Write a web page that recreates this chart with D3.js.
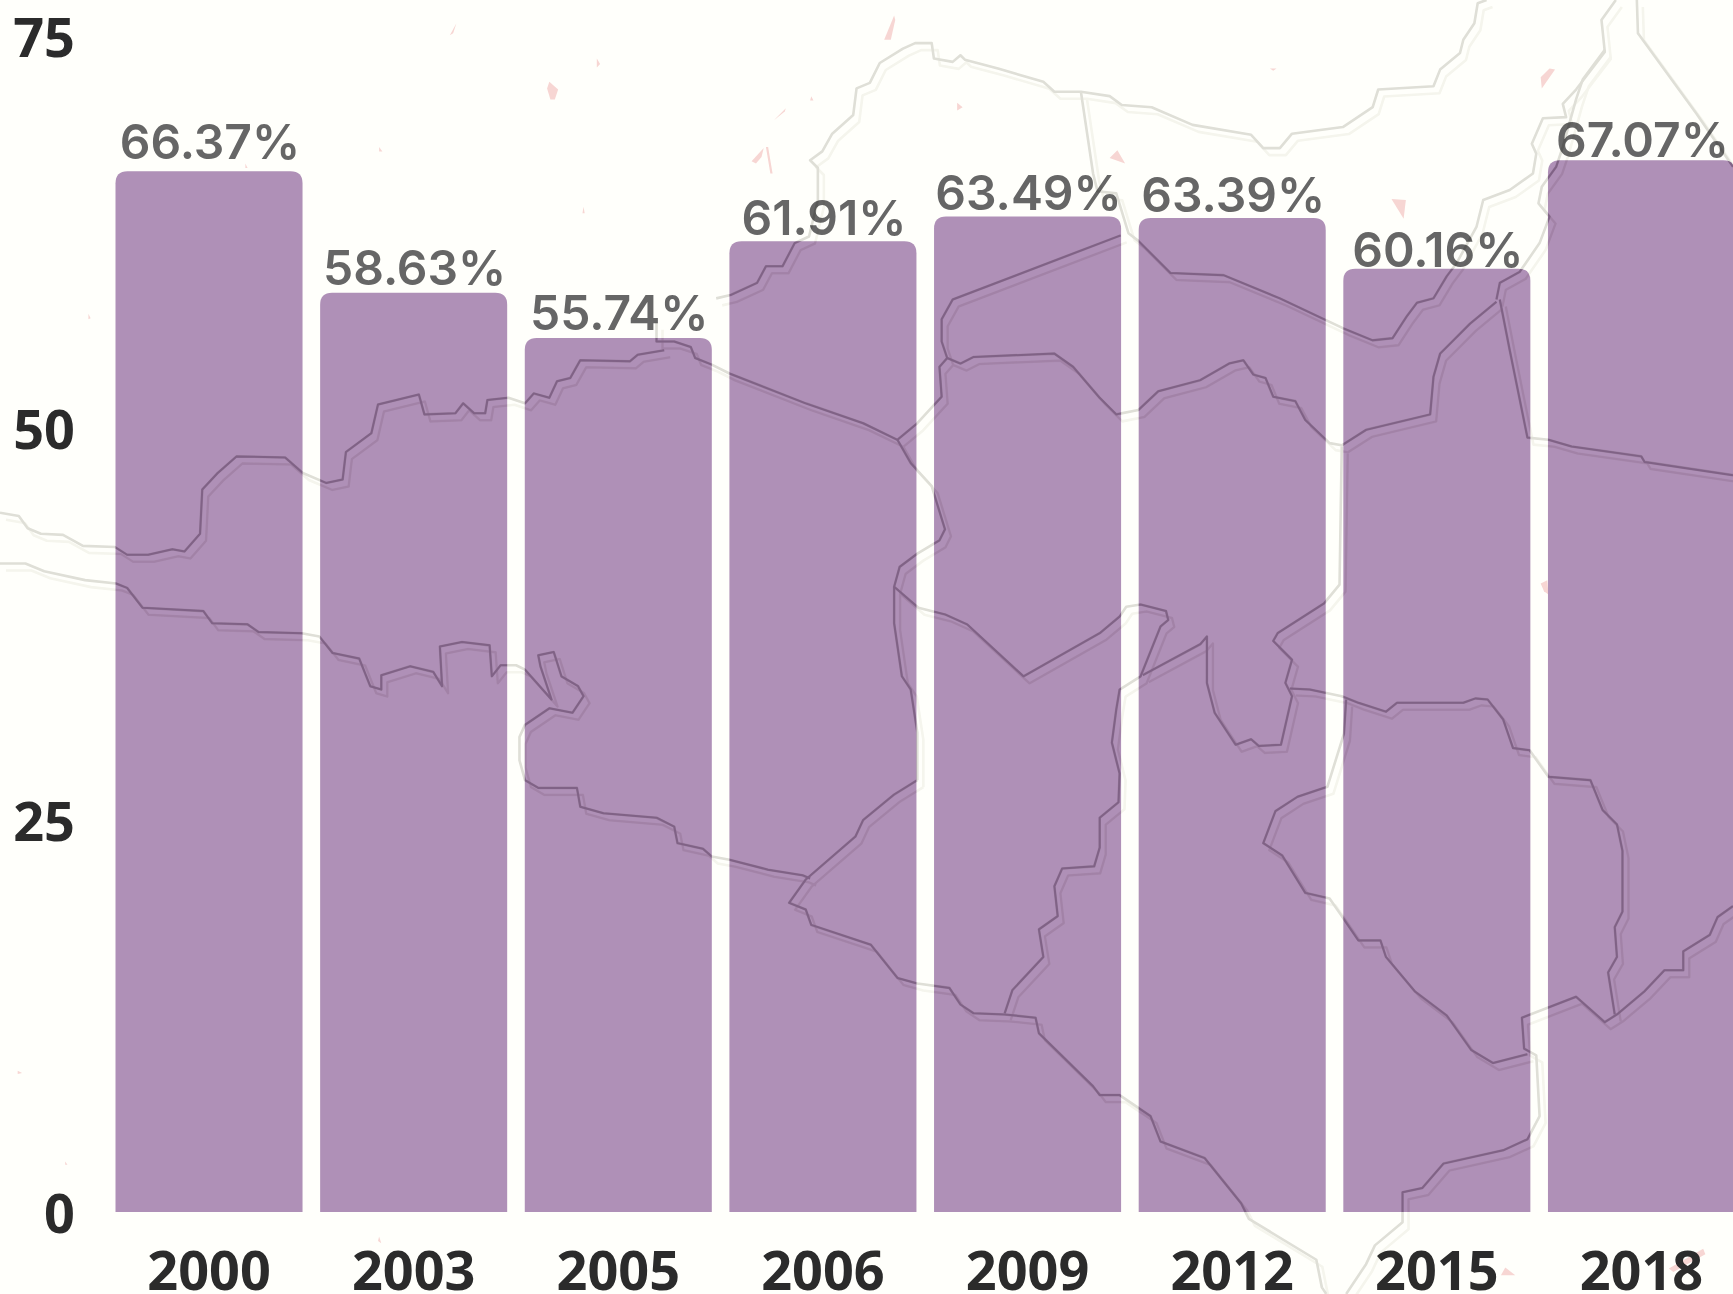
<!DOCTYPE html>
<html>
<head>
<meta charset="utf-8">
<script src="https://cdn.jsdelivr.net/npm/d3@7"></script>
<style>
html,body{margin:0;padding:0;background:#fffffb;overflow:hidden}
svg{display:block}
.overlay{mix-blend-mode:multiply}
</style>
</head>
<body>
<svg id="chart" width="1733" height="1294"></svg>
<script>
// ---- chart data ----
const years = ["2000","2003","2005","2006","2009","2012","2015","2018"];
const shares = [66.37,58.63,55.74,61.91,63.49,63.39,60.16,67.07];
const shareLabels = ["66.37%","58.63%","55.74%","61.91%","63.49%","63.39%","60.16%","67.07%"];
const yTicks = [0,25,50,75];

// ---- background map, traced in map units (0-1568 x 0-1171) ----
const borderNorth = [[0,464],[17,467],[25,478],[37,483],[57,484],[75,494],[104,495],[115,502],[134,502],[156,497],[167,499],[181,483],[183,443],[197,428],[214,413],[258,414],[274,428],[295,437],[310,434],[313,409],[336,392],[342,366],[379,357],[384,375],[412,374],[419,365],[429,374],[439,374],[441,362],[460,360],[475,365],[483,356],[497,360],[504,345],[516,342],[525,326],[570,327],[577,321],[601,317]];
const borderKnot = [[594,292],[594,309],[610,309],[625,314],[629,324],[644,330],[660,338],[729,365],[781,383],[812,398],[830,383],[852,359],[850,332],[857,324],[852,309],[852,289],[862,271],[1014,213]];
const borderUpperEast = [[648,270],[661,267],[685,256],[693,241],[708,241],[719,220],[732,214],[740,181],[740,152],[733,145],[744,137],[753,121],[772,104],[775,80],[787,75],[796,57],[817,44],[828,39],[843,39],[845,53],[862,56],[869,50],[873,54],[903,62],[944,74],[954,83],[978,83],[1004,87],[1015,95],[1042,97],[1079,113],[1132,122],[1143,134],[1158,134],[1169,121],[1215,115],[1242,97],[1247,81],[1297,78],[1303,63],[1321,48],[1324,36],[1334,21],[1337,3],[1345,0]];
const borderSpur = [[978,83],[989,157],[993,173],[1010,175],[1021,211],[1030,218],[1059,247],[1107,249],[1158,270],[1215,297],[1242,308],[1260,306],[1273,286],[1282,274],[1297,270],[1309,250],[1318,238],[1336,205],[1342,181],[1366,172],[1387,157],[1390,139],[1386,130],[1396,107],[1417,106],[1414,94],[1426,81],[1452,47],[1449,18],[1462,0]];
const borderNorthEast = [[1481,0],[1482,30],[1535,103],[1568,151]];
const borderEastInner = [[1354,271],[1357,256],[1375,246],[1393,220],[1402,196],[1392,184],[1395,169],[1408,151],[1414,133],[1426,90],[1432,72],[1452,45]];
const borderSouthWest = [[0,510],[23,510],[40,517],[77,525],[105,528],[115,532],[129,550],[184,553],[192,564],[224,565],[234,572],[273,573],[289,576],[301,591],[325,596],[335,621],[345,624],[345,611],[371,603],[392,608],[400,621],[398,585],[418,581],[443,584],[445,612],[453,602],[467,602],[475,606],[499,633],[489,603],[487,593],[501,590],[508,612],[523,621],[528,630],[518,645],[497,641],[475,656],[470,667],[470,688],[475,706],[487,713],[522,713],[525,730],[546,736],[594,740],[610,748],[613,763],[636,768],[644,775],[660,778],[695,787],[726,792],[733,795]];
const borderSouth = [[830,706],[809,719],[781,742],[774,757],[729,796],[714,817],[729,823],[734,837],[788,855],[812,885],[830,890],[859,894],[869,909],[881,917],[909,918],[937,921],[940,935],[989,983],[995,991],[1013,991],[1041,1010],[1050,1033],[1090,1048],[1123,1089],[1130,1103],[1191,1140],[1196,1165],[1200,1171]];
const borderSouthEast = [[1218,1171],[1236,1144],[1244,1127],[1269,1106],[1269,1079],[1287,1075],[1306,1053],[1360,1041],[1382,1031],[1393,1010],[1390,955],[1379,949],[1377,921],[1426,902],[1452,925],[1463,918],[1488,897],[1506,878],[1523,878],[1523,861],[1547,846],[1554,830],[1568,820]];
const borderLoop = [[1382,954],[1351,962],[1331,950],[1309,919],[1280,897],[1254,866],[1249,851],[1229,851],[1214,829],[1203,813],[1181,808],[1160,774],[1143,763],[1154,734],[1174,721],[1201,712],[1216,664],[1218,633]];
const borderMiddle = [[1167,623],[1185,624],[1214,630],[1229,636],[1254,644],[1264,636],[1324,636],[1335,632],[1346,633],[1360,651],[1369,677],[1384,679],[1401,703],[1439,706],[1450,733],[1463,746],[1468,770],[1468,825],[1461,839],[1463,866],[1455,880],[1461,918]];
const borderCentral = [[857,324],[869,329],[881,323],[954,320],[971,332],[995,360],[1010,375],[1030,371],[1048,354],[1086,344],[1112,329],[1125,326],[1134,339],[1145,342],[1152,359],[1172,363],[1181,380],[1203,401],[1214,403],[1236,389],[1294,375],[1297,341],[1303,320],[1315,308],[1330,293],[1354,273]];
const borderDrop = [[1357,271],[1366,317],[1382,396],[1401,398],[1422,404],[1485,413],[1488,418],[1568,430]];
const borderMidWest = [[812,398],[824,419],[843,440],[855,479],[850,489],[830,501],[814,513],[809,531],[831,550],[855,556],[875,565],[926,612],[995,573],[1013,558],[1019,549],[1032,547],[1055,553],[1057,561],[1050,567],[1032,612],[1013,624],[1010,642],[1006,672],[1013,700],[1012,726],[995,740],[995,767],[990,784],[961,786],[954,802],[957,829],[940,841],[944,866],[916,896],[909,917]];
const borderMidWestTwin = [[809,531],[809,564],[816,612],[824,624],[830,663],[830,706]];
const borderPocket = [[1034,611],[1086,583],[1092,576],[1092,618],[1099,645],[1118,674],[1132,669],[1139,675],[1159,674],[1169,630],[1163,618],[1169,597],[1152,580],[1156,573],[1198,546],[1212,529],[1214,404]];
const borderLines = [borderNorth,borderKnot,borderUpperEast,borderSpur,borderNorthEast,borderEastInner,borderSouthWest,borderSouth,borderSouthEast,borderLoop,borderMiddle,borderCentral,borderDrop,borderMidWest,borderMidWestTwin,borderPocket];

const flecks = [
 [[413,21],[407,32],[410,30]],
 [[497,74],[505,81],[502,90],[498,90],[495,80]],
 [[540,53],[543,58],[540,61]],
 [[343,133],[346,137],[343,137]],
 [[80,284],[82,288],[80,289]],
 [[528,187],[529,193],[527,193]],
 [[222,148],[224,152],[222,152]],
 [[809,14],[800,36],[806,36],[810,18]],
 [[710,101],[700,109],[711,98]],
 [[693,133],[697,157],[699,157],[695,133]],
 [[691,134],[680,146],[684,148],[689,142]],
 [[866,93],[871,97],[866,100]],
 [[1011,136],[1018,148],[1004,143]],
 [[734,87],[736,91],[733,91]],
 [[1149,62],[1155,62],[1152,64]],
 [[1407,63],[1395,80],[1394,70],[1402,62]],
 [[1259,180],[1272,181],[1270,198]],
 [[1400,525],[1394,528],[1397,535],[1401,538]],
 [[1362,1147],[1371,1154],[1358,1154]],
 [[1541,1130],[1543,1135],[1514,1151],[1510,1148]],
 [[343,1119],[345,1125],[342,1123]],
 [[59,1051],[61,1054],[59,1054]],
 [[16,969],[20,971],[16,972]]
];

// ---- layout ----
const W = 1733, H = 1294;
const BAR_LEFT = 115.5, BAR_RIGHT = 1735, Y0 = 1212, Y75 = 36;
const labelLift = [12,8,8,6,6,6,2,3];

const svg = d3.select("#chart");
const x = d3.scaleBand().domain(years).range([BAR_LEFT, BAR_RIGHT]).paddingInner(0.086).paddingOuter(0);
const y = d3.scaleLinear().domain([0,75]).range([Y0, Y75]);
const mapX = d3.scaleLinear().domain([0,1568]).range([0,W]);
const mapY = d3.scaleLinear().domain([0,1171]).range([0,H]);
const mapLine = d3.line().x(d => mapX(d[0])).y(d => mapY(d[1]));

const barPath = (year, value) => {
  const l = x(year), r = l + x.bandwidth(), t = y(value), b = y(0), c = 12;
  const p = d3.path();
  p.moveTo(l, b); p.lineTo(l, t + c);
  p.quadraticCurveTo(l, t, l + c, t);
  p.lineTo(r - c, t);
  p.quadraticCurveTo(r, t, r, t + c);
  p.lineTo(r, b); p.closePath();
  return p.toString();
};

svg.append("rect").attr("width",W).attr("height",H).attr("fill","#fffffb");

// pink islands sit behind the bars
svg.append("g").selectAll("path").data(flecks).join("path")
  .attr("d", d => mapLine(d) + "Z").attr("fill","#f7d6d3");

// clip for the stronger map tint inside bars
svg.append("defs").append("clipPath").attr("id","barClip")
  .selectAll("path").data(years).join("path")
  .attr("d",(d,i) => barPath(d, shares[i]));

// bars
svg.append("g").selectAll("path").data(years).join("path")
  .attr("d",(d,i) => barPath(d, shares[i]))
  .attr("fill","#af90b7");

// value labels
svg.append("g").selectAll("text").data(years).join("text")
  .attr("x", d => x(d) + x.bandwidth()/2 + 1)
  .attr("y", (d,i) => y(shares[i]) - labelLift[i])
  .attr("text-anchor","middle")
  .attr("font-family","Inter, Roboto, sans-serif")
  .attr("font-weight",600)
  .attr("font-size",48)
  .attr("fill","#666666")
  .text((d,i) => shareLabels[i]);

// axes
const axisFont = g => g.attr("font-family","'Noto Sans', sans-serif").attr("font-weight",700).attr("font-size",54).attr("fill","#2b2b2b");
const yAxis = svg.append("g").attr("transform","translate(93,0)").call(d3.axisLeft(y).tickValues(yTicks).tickSize(0).tickPadding(18));
yAxis.select(".domain").remove();
yAxis.selectAll("text").call(axisFont).attr("dy","0.38em");
const xAxis = svg.append("g").attr("transform",`translate(0,${Y0})`).call(d3.axisBottom(x).tickSize(0).tickPadding(0));
xAxis.select(".domain").remove();
xAxis.selectAll("text").call(axisFont).attr("y",78).attr("dy",0);

// map drawn on top with multiply, as a translucent overlay
const drawMap = (parent, mainColor, shadowColor, w) => {
  const shadow = parent.append("g").attr("transform","translate(6,7)");
  shadow.selectAll("path").data(borderLines).join("path")
    .attr("d", mapLine).attr("fill","none").attr("stroke",shadowColor)
    .attr("stroke-width",w).attr("stroke-linejoin","round");
  parent.append("g").selectAll("path").data(borderLines).join("path")
    .attr("d", mapLine).attr("fill","none").attr("stroke",mainColor)
    .attr("stroke-width",w).attr("stroke-linejoin","round");
};
const overlayAll = svg.append("g").attr("class","overlay");
drawMap(overlayAll, "#dfdfdb", "#f5f5f1", 2.6);
const overlayBars = svg.append("g").attr("class","overlay").attr("clip-path","url(#barClip)");
drawMap(overlayBars, "#d6c7da", "#f6f0f7", 2);
</script>
</body>
</html>
